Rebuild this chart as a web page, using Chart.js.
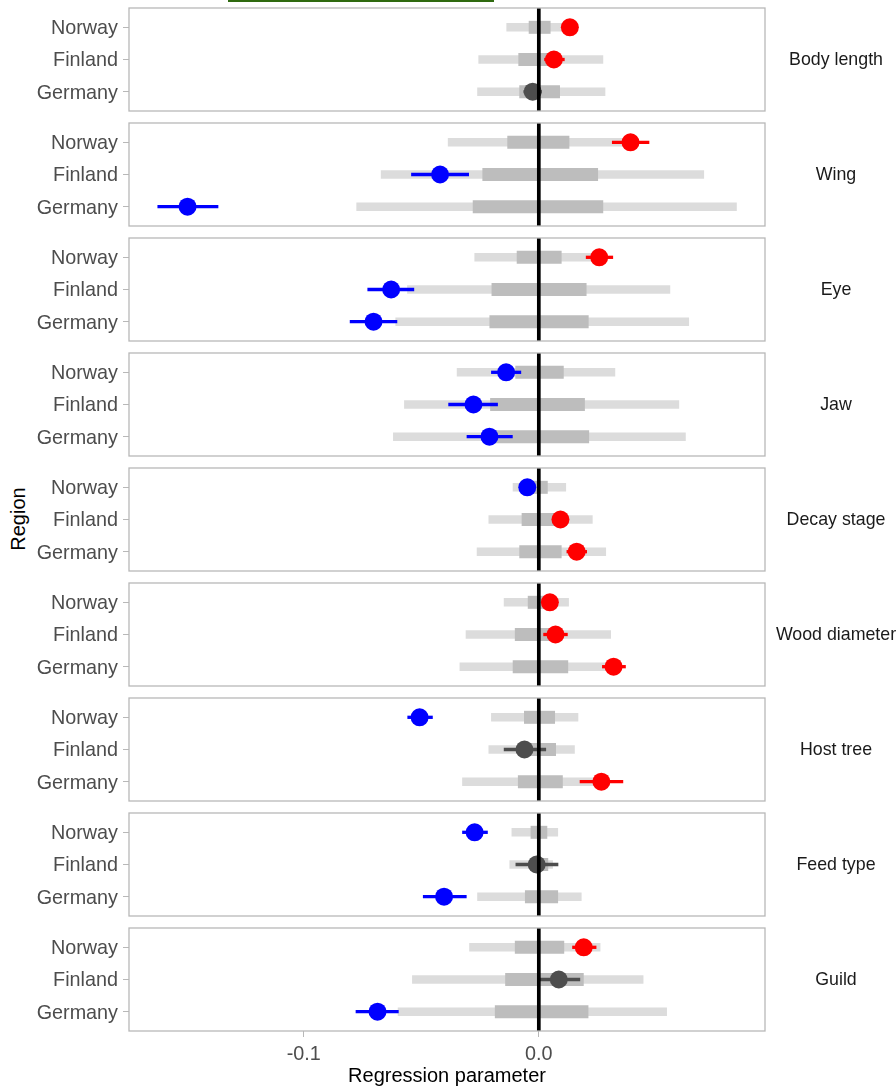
<!DOCTYPE html>
<html><head><meta charset="utf-8">
<script src="https://cdn.jsdelivr.net/npm/chart.js@4"></script>
<style>
html,body{margin:0;padding:0;background:#fff;}
body{width:896px;height:1086px;position:relative;overflow:hidden;font-family:"Liberation Sans",Arial,sans-serif;}
.pc{position:absolute;left:0;width:896px;}
#ytitle{position:absolute;left:18px;top:519px;transform:translate(-50%,-50%) rotate(-90deg);font-size:20px;color:#000;white-space:nowrap;line-height:1;}
#topline{position:absolute;left:228px;top:0;width:266px;height:2px;background:#2f6a10;}
</style></head>
<body>
<div id="topline"></div>
<div id="ytitle">Region</div>
<div id="charts"></div>
<script>
const regions = ["Norway", "Finland", "Germany"];
const traits = ["Body length", "Wing", "Eye", "Jaw", "Decay stage", "Wood diameter", "Host tree", "Feed type", "Guild"];
// each row: [Norway, Finland, Germany]
const estimate = [
  [0.0132, 0.0064, -0.0026],
  [0.0390, -0.0420, -0.1494],
  [0.0257, -0.0628, -0.0703],
  [-0.0139, -0.0278, -0.0210],
  [-0.0049, 0.0092, 0.0161],
  [0.0047, 0.0071, 0.0318],
  [-0.0507, -0.0061, 0.0266],
  [-0.0273, -0.0009, -0.0403],
  [0.0191, 0.0085, -0.0686]
];
const ciLow = [
  [0.0112, 0.0023, -0.0065],
  [0.0311, -0.0543, -0.1622],
  [0.0200, -0.0729, -0.0804],
  [-0.0203, -0.0385, -0.0307],
  [-0.0069, 0.0072, 0.0118],
  [0.0027, 0.0019, 0.0269],
  [-0.0559, -0.0149, 0.0174],
  [-0.0326, -0.0099, -0.0493],
  [0.0142, -0.0005, -0.0779]
];
const ciHigh = [
  [0.0152, 0.0110, 0.0013],
  [0.0470, -0.0297, -0.1363],
  [0.0316, -0.0530, -0.0602],
  [-0.0075, -0.0174, -0.0111],
  [-0.0029, 0.0112, 0.0205],
  [0.0067, 0.0123, 0.0370],
  [-0.0451, 0.0031, 0.0359],
  [-0.0217, 0.0083, -0.0307],
  [0.0245, 0.0176, -0.0596]
];
const nullOuterLow = [
  [-0.0138, -0.0257, -0.0262],
  [-0.0387, -0.0672, -0.0776],
  [-0.0274, -0.0560, -0.0610],
  [-0.0349, -0.0573, -0.0620],
  [-0.0111, -0.0214, -0.0264],
  [-0.0149, -0.0311, -0.0337],
  [-0.0203, -0.0214, -0.0326],
  [-0.0116, -0.0125, -0.0262],
  [-0.0296, -0.0539, -0.0600]
];
const nullOuterHigh = [
  [0.0115, 0.0274, 0.0283],
  [0.0370, 0.0703, 0.0842],
  [0.0260, 0.0559, 0.0639],
  [0.0325, 0.0597, 0.0625],
  [0.0116, 0.0229, 0.0286],
  [0.0128, 0.0307, 0.0320],
  [0.0168, 0.0153, 0.0300],
  [0.0082, 0.0060, 0.0182],
  [0.0262, 0.0445, 0.0545]
];
const nullInnerLow = [
  [-0.0043, -0.0087, -0.0083],
  [-0.0134, -0.0240, -0.0281],
  [-0.0094, -0.0201, -0.0210],
  [-0.0100, -0.0207, -0.0210],
  [-0.0040, -0.0073, -0.0083],
  [-0.0047, -0.0102, -0.0111],
  [-0.0063, -0.0060, -0.0089],
  [-0.0035, -0.0035, -0.0059],
  [-0.0102, -0.0143, -0.0187]
];
const nullInnerHigh = [
  [0.0050, 0.0090, 0.0090],
  [0.0130, 0.0252, 0.0274],
  [0.0097, 0.0203, 0.0212],
  [0.0106, 0.0196, 0.0214],
  [0.0038, 0.0070, 0.0097],
  [0.0040, 0.0100, 0.0125],
  [0.0069, 0.0073, 0.0102],
  [0.0036, 0.0040, 0.0082],
  [0.0108, 0.0191, 0.0211]
];
const xTicks = [-0.1, 0.0];
const xTickLabels = ["-0.1", "0.0"];
const xTitle = "Regression parameter";

const XMIN = -0.1743, XMAX = 0.0962;
const FONT = '"Liberation Sans", Arial, sans-serif';
const RED = '#ff0000', BLUE = '#0000ff', DARK = '#4d4d4d';
const LIGHTBAR = '#dcdcdc', DARKBAR = '#bdbdbd';

function pointColor(lo, hi) {
  if (lo > 0) return RED;
  if (hi < 0) return BLUE;
  return DARK;
}

const panelPlugin = {
  id: 'panel',
  afterDatasetsDraw(chart, args, opts) {
    const {ctx, chartArea: a, scales: {x}} = chart;
    const x0 = x.getPixelForValue(0);
    ctx.save();
    ctx.strokeStyle = '#000';
    ctx.lineWidth = 3.7;
    ctx.beginPath();
    ctx.moveTo(x0, a.top);
    ctx.lineTo(x0, a.bottom);
    ctx.stroke();
    ctx.strokeStyle = '#b8b8b8';
    ctx.lineWidth = 1.3;
    ctx.strokeRect(a.left, a.top, a.right - a.left, a.bottom - a.top);
    ctx.fillStyle = '#1a1a1a';
    ctx.font = '17.8px ' + FONT;
    ctx.textAlign = 'center';
    ctx.textBaseline = 'middle';
    ctx.fillText(opts.label, 836, (a.top + a.bottom) / 2 + 1);
    ctx.restore();
  }
};

const container = document.getElementById('charts');
traits.forEach((trait, i) => {
  const last = i === traits.length - 1;
  const top = 6 + 115 * i;
  const h = last ? 1086 - top : 107;
  const wrap = document.createElement('div');
  wrap.className = 'pc';
  wrap.style.top = top + 'px';
  wrap.style.height = h + 'px';
  const cv = document.createElement('canvas');
  cv.width = 896; cv.height = h;
  cv.style.width = '896px'; cv.style.height = h + 'px';
  wrap.appendChild(cv);
  container.appendChild(wrap);

  const seg = (lo, hi, row, color, width, order) => ({
    type: 'scatter', showLine: true,
    data: [{x: lo, y: row}, {x: hi, y: row}],
    borderColor: color, borderWidth: width, borderCapStyle: 'butt',
    pointRadius: 0, pointHoverRadius: 0, order: order
  });
  const datasets = [];
  regions.forEach((r, j) => {
    datasets.push(seg(nullOuterLow[i][j], nullOuterHigh[i][j], j + 1, LIGHTBAR, 8.5, 4));
    datasets.push(seg(nullInnerLow[i][j], nullInnerHigh[i][j], j + 1, DARKBAR, 13, 3));
    const c = pointColor(ciLow[i][j], ciHigh[i][j]);
    datasets.push(seg(ciLow[i][j], ciHigh[i][j], j + 1, c, 3.3, 2));
  });
  datasets.push({
    type: 'scatter',
    data: regions.map((r, j) => ({x: estimate[i][j], y: j + 1})),
    pointRadius: 9, pointHoverRadius: 9, pointBorderWidth: 0,
    pointBackgroundColor: regions.map((r, j) => pointColor(ciLow[i][j], ciHigh[i][j])),
    order: 1
  });

  new Chart(cv, {
    type: 'scatter',
    data: {datasets},
    plugins: [panelPlugin],
    options: {
      responsive: false,
      animation: false,
      events: [],
      layout: {autoPadding: false, padding: {top: 2, bottom: last ? 0 : 2, left: 0, right: 131}},
      plugins: {legend: {display: false}, tooltip: {enabled: false}, panel: {label: trait}},
      scales: {
        x: {
          type: 'linear', min: XMIN, max: XMAX, display: last,
          afterBuildTicks: s => { s.ticks = xTicks.map(v => ({value: v})); },
          afterFit: s => {
            if (last) { s.height = 55; } else { s.height = 0; }
            s.paddingLeft = 0; s.paddingRight = 0;
          },
          ticks: {
            callback: v => xTickLabels[xTicks.indexOf(v)],
            font: {family: FONT, size: 19.8}, color: '#4d4d4d', padding: 6,
            maxRotation: 0, autoSkip: false
          },
          grid: {drawOnChartArea: false, drawTicks: true, tickLength: 6, color: '#b8b8b8'},
          border: {display: false},
          title: {display: true, text: xTitle, color: '#000', font: {family: FONT, size: 20, lineHeight: 1.0}, padding: {top: 0, bottom: 0}}
        },
        y: {
          type: 'linear', min: 0.4, max: 3.6, reverse: true,
          afterBuildTicks: s => { s.ticks = [1, 2, 3].map(v => ({value: v})); },
          afterFit: s => { s.width = 129; s.paddingTop = 0; s.paddingBottom = 0; },
          ticks: {
            callback: v => regions[Math.round(v) - 1],
            font: {family: FONT, size: 19.8}, color: '#4d4d4d', padding: 5, autoSkip: false,
            labelOffset: 1.5
          },
          grid: {drawOnChartArea: false, drawTicks: true, tickLength: 6, color: '#b8b8b8'},
          border: {display: false}
        }
      }
    }
  });
});
</script>
</body></html>
